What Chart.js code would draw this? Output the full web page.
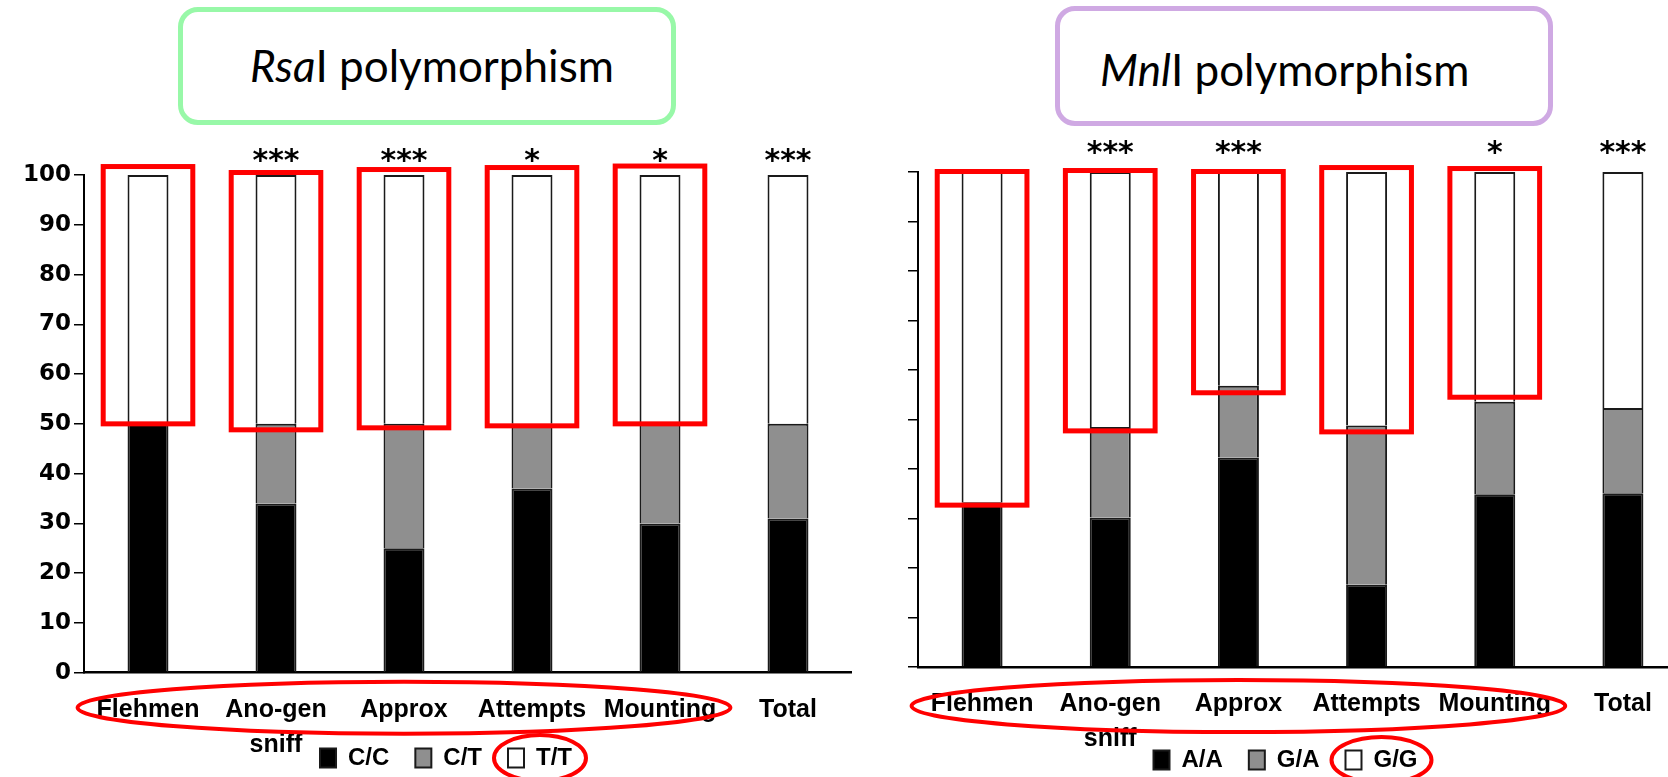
<!DOCTYPE html>
<html>
<head>
<meta charset="utf-8">
<script src="https://cdn.jsdelivr.net/npm/chart.js@4.4.1/dist/chart.umd.min.js"></script>
<style>
  html, body { margin: 0; padding: 0; background: #fff; }
  body { width: 1668px; height: 777px; position: relative; overflow: hidden; }
  canvas { position: absolute; top: 0; }
  .title-box { position: absolute; box-sizing: border-box; border: 5px solid; border-radius: 20px; background: transparent; }
  .title-text { position: absolute; font-family: Lato, "Open Sans", sans-serif; font-size: 44px; line-height: 44px; color: #000; white-space: nowrap; }
</style>
</head>
<body>
<div class="title-box" style="left:178px; top:7px; width:498px; height:118px; border-color:#98f8a8;"></div>
<div class="title-text" style="left:250px; top:43px;"><i>Rsa</i>I polymorphism</div>
<div class="title-box" style="left:1055px; top:6px; width:498px; height:120px; border-color:#cfa9e3;"></div>
<div class="title-text" style="left:1100px; top:47px;"><i>Mnl</i>I polymorphism</div>

<canvas id="rsa-chart" width="852" height="780" style="left:0px;"></canvas>
<canvas id="mnl-chart" width="853" height="782" style="left:834px;"></canvas>

<script>
// --- DATA ---
const categories = ['Flehmen', ['Ano-gen', 'sniff'], 'Approx', 'Attempts', 'Mounting', 'Total'];
const yTicks = [0, 10, 20, 30, 40, 50, 60, 70, 80, 90, 100];

// RsaI genotypes (%)
const rsaCC = [50, 34, 25, 37, 30, 31];
const rsaCT = [0, 16, 25, 13, 20, 19];
const rsaTT = [50, 50, 50, 50, 50, 50];
const rsaSig = ['', '***', '***', '*', '*', '***'];
const rsaBoxLow = [50, 48.8, 49.2, 49.6, 50, null];
const rsaBoxHigh = [101.7, 100.5, 101.1, 101.5, 101.8, null];

// MnlI genotypes (%)
const mnlAA = [33.3, 30.2, 42.3, 16.6, 34.9, 35.1];
const mnlGA = [0, 18.3, 14.5, 32.2, 18.7, 17.2];
const mnlGG = [66.7, 51.5, 43.2, 51.2, 46.4, 47.7];
const mnlSig = ['', '***', '***', '', '*', '***'];
const mnlBoxLow = [32.7, 47.7, 55.4, 47.5, 54.5, null];
const mnlBoxHigh = [100.1, 100.3, 100.1, 100.9, 100.7, null];

const RED = '#ff0000';

// --- ANNOTATIONS (stars, red boxes, ellipses) ---
const marksPlugin = {
    id: 'marks',
    afterLayout(chart, args, opts) {
        // legend sits a bit right of centre in the original figure
        const lg = chart.legend;
        if (lg) {
            lg.left += opts.legendShift;
            lg.right += opts.legendShift;
        }
    },
    afterDraw(chart, args, opts) {
        const { ctx, scales: { x, y } } = chart;
        const catW = x.getPixelForValue(1) - x.getPixelForValue(0);

        ctx.save();
        // significance stars
        ctx.fillStyle = '#000';
        ctx.font = 'bold 30px "DejaVu Sans"';
        ctx.textAlign = 'center';
        ctx.textBaseline = 'middle';
        opts.sig.forEach((s, i) => {
            if (s) ctx.fillText(s, x.getPixelForValue(i), y.getPixelForValue(100) - opts.sigGap);
        });

        // red boxes around the highlighted segments
        ctx.strokeStyle = RED;
        ctx.lineWidth = 5;
        opts.boxLow.forEach((lo, i) => {
            if (lo == null) return;
            const cx = x.getPixelForValue(i);
            const top = y.getPixelForValue(opts.boxHigh[i]);
            const bot = y.getPixelForValue(lo);
            ctx.strokeRect(cx - catW * 0.35, top, catW * 0.7, bot - top);
        });

        // ellipse around the behaviour labels
        ctx.lineWidth = 4;
        const x0 = x.getPixelForValue(0), x4 = x.getPixelForValue(4);
        ctx.beginPath();
        ctx.ellipse((x0 + x4) / 2, chart.chartArea.bottom + opts.labelEllipseGap,
            (x4 - x0) / 2 + catW * 0.55, 26, 0, 0, Math.PI * 2);
        ctx.stroke();

        // ellipse around the third legend item
        const hb = chart.legend.legendHitBoxes[2];
        if (hb) {
            ctx.beginPath();
            ctx.ellipse(hb.left + hb.width / 2, hb.top + hb.height / 2,
                hb.width / 2 + 14, 23, 0, 0, Math.PI * 2);
            ctx.stroke();
        }
        ctx.restore();
    }
};

function makePanel(canvasId, labels, series, names, cfg) {
    const colors = ['#000000', '#8f8f8f', '#ffffff'];
    const ctx = document.getElementById(canvasId).getContext('2d');
    return new Chart(ctx, {
        type: 'bar',
        data: {
            labels: labels,
            datasets: series.map((vals, i) => ({
                label: names[i],
                data: vals,
                backgroundColor: colors[i],
                borderColor: '#1a1a1a',
                borderWidth: 2,
                barPercentage: 0.32,
                categoryPercentage: 1
            }))
        },
        options: {
            responsive: false,
            animation: false,
            layout: { padding: { top: cfg.top, left: 0, right: 0, bottom: 0 } },
            scales: {
                x: {
                    stacked: true,
                    grid: { drawOnChartArea: false, drawTicks: false },
                    border: { color: '#000', width: 2.5 },
                    ticks: {
                        color: '#000',
                        padding: 20,
                        maxRotation: 0,
                        autoSkip: false,
                        font: { family: '"Liberation Sans"', weight: 'bold', size: 25, lineHeight: 1.4 }
                    },
                    afterFit(scale) {
                        scale.height = cfg.xHeight;
                        // the second label line runs beside the legend, so don't clip it
                        scale._computeLabelArea = () => undefined;
                    }
                },
                y: {
                    stacked: true,
                    min: 0,
                    max: 100,
                    afterBuildTicks(scale) { scale.ticks = yTicks.map(v => ({ value: v })); },
                    grid: { drawOnChartArea: false, drawTicks: true, tickLength: 10, color: '#000', lineWidth: 1.5 },
                    border: { color: '#000', width: 2 },
                    ticks: {
                        display: cfg.showYLabels,
                        color: '#000',
                        padding: 3,
                        font: { family: '"DejaVu Sans"', weight: 'bold', size: 23 }
                    },
                    afterFit(scale) { scale.width = 84; }
                }
            },
            plugins: {
                tooltip: { enabled: false },
                legend: {
                    position: 'bottom',
                    labels: {
                        color: '#000',
                        boxWidth: 16,
                        boxHeight: 19,
                        padding: 26,
                        font: { family: '"Liberation Sans"', weight: 'bold', size: 24 }
                    }
                },
                marks: {
                    sig: cfg.sig,
                    boxLow: cfg.boxLow,
                    boxHigh: cfg.boxHigh,
                    sigGap: cfg.sigGap,
                    labelEllipseGap: cfg.labelEllipseGap,
                    legendShift: cfg.legendShift
                }
            }
        },
        plugins: [marksPlugin]
    });
}

makePanel('rsa-chart', categories, [rsaCC, rsaCT, rsaTT], ['C/C', 'C/T', 'T/T'], {
    top: 175, xHeight: 47.3, showYLabels: true, legendShift: 20,
    sig: rsaSig, boxLow: rsaBoxLow, boxHigh: rsaBoxHigh, sigGap: 13, labelEllipseGap: 35
});

makePanel('mnl-chart', categories, [mnlAA, mnlGA, mnlGG], ['A/A', 'G/A', 'G/G'], {
    top: 172, xHeight: 55, showYLabels: false, legendShift: 25,
    sig: mnlSig, boxLow: mnlBoxLow, boxHigh: mnlBoxHigh, sigGap: 18, labelEllipseGap: 39
});
</script>
</body>
</html>
